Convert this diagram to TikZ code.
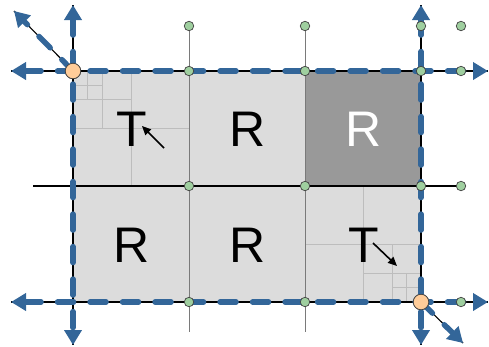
\documentclass[tikz,border=0pt]{standalone}
\usepackage{fontspec}
\setmainfont{Liberation Sans}
\usetikzlibrary{arrows.meta}
\definecolor{cellfill}{HTML}{DCDCDC}
\definecolor{darkcell}{HTML}{999999}
\definecolor{subline}{HTML}{BDBDBD}
\definecolor{gridgray}{HTML}{7A7A7A}
\definecolor{axisblue}{HTML}{336699}
\definecolor{cornerfill}{HTML}{FFCC99}
\definecolor{dotfill}{HTML}{9FCF9F}
\begin{document}
\begin{tikzpicture}[x=1pt,y=-1pt,
  dot/.style={circle,draw=black!75,fill=dotfill,line width=0.7pt,minimum size=9.5pt,inner sep=0pt},
  corner/.style={circle,draw=black!75,fill=cornerfill,line width=0.7pt,minimum size=15.5pt,inner sep=0pt},
  axis/.style={draw=axisblue,line width=5.5pt,dash pattern=on 16pt off 16.5pt,line cap=round},
  bothtips/.style={{Triangle[width=17pt,length=15pt]}-{Triangle[width=17pt,length=15pt]}},
  onetip/.style={-{Triangle[width=17pt,length=15pt]}},
  thin/.style={draw=black,line width=1.1pt},
  gridline/.style={draw=gridgray,line width=1pt},
  quad/.style={draw=subline,line width=0.9pt},
  letter/.style={font=\fontsize{50}{50}\selectfont,inner sep=0pt},
  pointer/.style={draw=black,line width=1.6pt,-{Triangle[width=8pt,length=9pt]}}]
\useasboundingbox (0,0) rectangle (489,346);

% cell areas
\fill[cellfill] (73,71) rectangle (421,302);
\fill[darkcell] (305,71) rectangle (421,186);

% quadtree refinement, upper left cell
\draw[quad] (131,71) -- (131,186) (73,128.5) -- (189,128.5);
\draw[quad] (102,71) -- (102,128.5) (73,99.5) -- (131,99.5);
\draw[quad] (87.5,71) -- (87.5,99.5) (73,85) -- (102,85);
% quadtree refinement, lower right cell
\draw[quad] (363,186) -- (363,302) (305,244) -- (421,244);
\draw[quad] (392,244) -- (392,302) (363,273) -- (421,273);
\draw[quad] (406.5,273) -- (406.5,302) (392,287.5) -- (421,287.5);

% grid line end points
\coordinate (v1t) at (189,26);  \coordinate (v1b) at (189,332);
\coordinate (v2t) at (305,26);  \coordinate (v2b) at (305,332);
\coordinate (hmL) at (33,186);  \coordinate (hmR) at (461,186);
\coordinate (htL) at (11,71);   \coordinate (htR) at (488,71);
\coordinate (hbL) at (11,302);  \coordinate (hbR) at (488,302);
\coordinate (vlT) at (73,5);    \coordinate (vlB) at (73,345);
\coordinate (vrT) at (421,5);   \coordinate (vrB) at (421,345);
\coordinate (dTL) at (14,11);   \coordinate (dBR) at (463,343);

% interior grid lines
\draw[gridline] (v1t) -- (v1b);
\draw[gridline] (v2t) -- (v2b);
\draw[thin] (hmL) -- (hmR);

% corner markers
\node[corner] (ctl) at (73,71) {};
\node[corner] (cbr) at (421,302) {};

% boundary lines beneath the dashed axes
\draw[thin] (htL) -- (htR);
\draw[thin] (hbL) -- (hbR);
\draw[thin] (vlT) -- (vlB);
\draw[thin] (vrT) -- (vrB);
\draw[thin] (ctl.center) -- (dTL);
\draw[thin] (cbr.center) -- (dBR);

% dashed axes
\draw[axis,bothtips] (htL) -- (htR);
\draw[axis,bothtips] (hbL) -- (hbR);
\draw[axis,bothtips] (vlT) -- (vlB);
\draw[axis,bothtips] (vrT) -- (vrB);
\draw[axis,onetip] (ctl.center) -- (dTL);
\draw[axis,onetip] (cbr.center) -- (dBR);

% corner markers on top
\node[corner] at (ctl) {};
\node[corner] at (cbr) {};

% cell labels
\node[letter] (t1) at (132,129) {T};
\node[letter] (r1) at (248,129) {R};
\node[letter,text=white] (r2) at (364,129) {R};
\node[letter] (r3) at (132,245) {R};
\node[letter] (r4) at (248,245) {R};
\node[letter] (t2) at (364,245) {T};

% refinement direction pointers
\coordinate (p1s) at (164,148); \coordinate (p1e) at (142,126);
\coordinate (p2s) at (373,243); \coordinate (p2e) at (397,266);
\draw[pointer] (p1s) -- (p1e);
\draw[pointer] (p2s) -- (p2e);

% grid nodes
\foreach \x/\n in {189/a,305/b,421/c,461/d}{
  \node[dot] (\n1) at (\x,26) {};
  \node[dot] (\n2) at (\x,71) {};
  \node[dot] (\n3) at (\x,186) {};
}
\node[dot] (a4) at (189,302) {};
\node[dot] (b4) at (305,302) {};
\node[dot] (d4) at (461,302) {};
\end{tikzpicture}
\end{document}
